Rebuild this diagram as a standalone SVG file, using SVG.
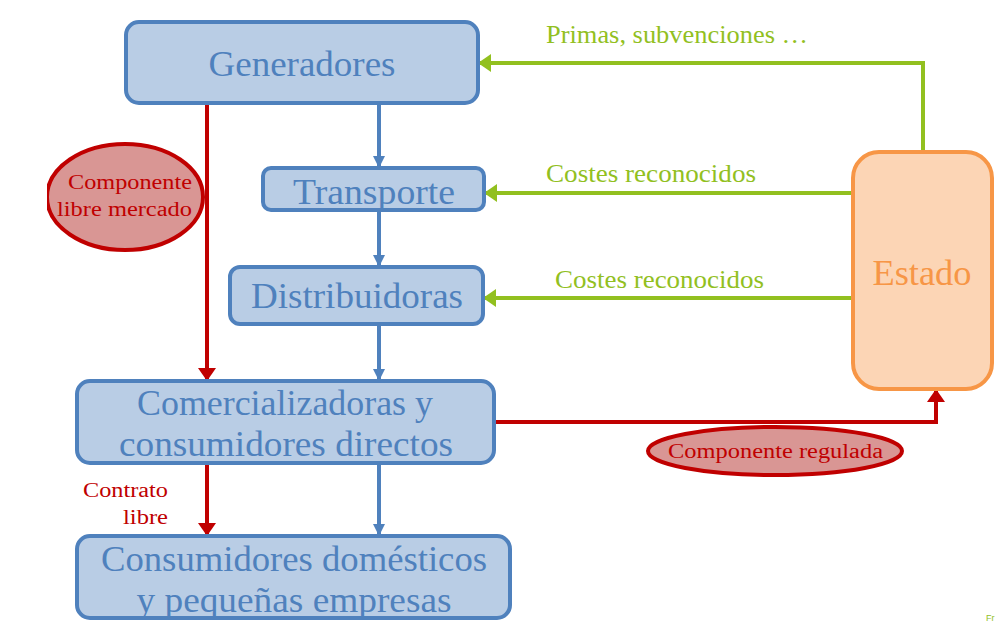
<svg xmlns="http://www.w3.org/2000/svg" width="997" height="623" viewBox="0 0 997 623">
<style>
.box{fill:#b9cde5;stroke:#4f81bd;stroke-width:4}
.bt{font-family:"Liberation Serif","DejaVu Serif",serif;font-size:35px;fill:#4f81bd;text-anchor:middle}
.g{stroke:#92c01f;stroke-width:4;fill:none}
.r{stroke:#c00000;stroke-width:4;fill:none}
.b{stroke:#4f81bd;stroke-width:4;fill:none}
.gt{font-family:"Liberation Serif","DejaVu Serif",serif;font-size:25px;fill:#92c01f}
.rt{font-family:"Liberation Serif","DejaVu Serif",serif;font-size:20px;fill:#c00000}
.ell{fill:#d99694;stroke:#c00000;stroke-width:4}
</style>
<defs>
<marker id="ab" markerUnits="userSpaceOnUse" markerWidth="14" markerHeight="12" refX="12" refY="6" orient="auto"><path d="M0,0 L12,6 L0,12 z" fill="#4f81bd"/></marker>
<marker id="ar" markerUnits="userSpaceOnUse" markerWidth="16" markerHeight="18" refX="13" refY="9" orient="auto"><path d="M0,0 L13,9 L0,18 z" fill="#c00000"/></marker>
<marker id="ag" markerUnits="userSpaceOnUse" markerWidth="16" markerHeight="18" refX="13" refY="9" orient="auto"><path d="M0,0 L13,9 L0,18 z" fill="#92c01f"/></marker>
<clipPath id="cl"><rect x="47" y="0" width="950" height="623"/></clipPath>
</defs>
<g id="connectors">
<path class="b" d="M379,103 V168" marker-end="url(#ab)"/>
<path class="b" d="M379,210 V267" marker-end="url(#ab)"/>
<path class="b" d="M379,324 V381" marker-end="url(#ab)"/>
<path class="b" d="M379,463 V536" marker-end="url(#ab)"/>
<path class="r" d="M207,103 V381" marker-end="url(#ar)"/>
<path class="r" d="M207,463 V536" marker-end="url(#ar)"/>
<path class="r" d="M494,422 H936 V389" marker-end="url(#ar)"/>
<path class="g" d="M923,152 V63 H478" marker-end="url(#ag)"/>
<path class="g" d="M853,193 H484" marker-end="url(#ag)"/>
<path class="g" d="M853,298 H483" marker-end="url(#ag)"/>
<text class="gt" x="546" y="43" textLength="262" lengthAdjust="spacingAndGlyphs">Primas, subvenciones …</text>
<text class="gt" x="546" y="182" textLength="210" lengthAdjust="spacingAndGlyphs">Costes reconocidos</text>
<text class="gt" x="555" y="288" textLength="209" lengthAdjust="spacingAndGlyphs">Costes reconocidos</text>
<text class="rt" x="83" y="497" textLength="85" lengthAdjust="spacingAndGlyphs">Contrato</text>
<text class="rt" x="123" y="524" textLength="45" lengthAdjust="spacingAndGlyphs">libre</text>
</g>
<g id="generadores"><rect class="box" x="126" y="22" width="352" height="81" rx="13"/><text class="bt" x="302" y="76" textLength="187" lengthAdjust="spacingAndGlyphs">Generadores</text></g>
<g id="transporte"><rect class="box" x="263" y="168" width="221" height="42" rx="8"/><text class="bt" x="374" y="204" textLength="162" lengthAdjust="spacingAndGlyphs">Transporte</text></g>
<g id="distribuidoras"><rect class="box" x="230" y="267" width="253" height="57" rx="10"/><text class="bt" x="357" y="308" textLength="212" lengthAdjust="spacingAndGlyphs">Distribuidoras</text></g>
<g id="comercializadoras"><rect class="box" x="77" y="381" width="417" height="82" rx="13"/><text class="bt" x="285" y="415" textLength="296" lengthAdjust="spacingAndGlyphs">Comercializadoras y</text><text class="bt" x="286" y="456" textLength="334" lengthAdjust="spacingAndGlyphs">consumidores directos</text></g>
<g id="consumidores"><rect class="box" x="77" y="536" width="433" height="82" rx="13"/><text class="bt" x="294" y="571" textLength="386" lengthAdjust="spacingAndGlyphs">Consumidores domésticos</text><text class="bt" x="294" y="612" textLength="315" lengthAdjust="spacingAndGlyphs">y pequeñas empresas</text></g>
<g id="estado"><rect x="853" y="152" width="139" height="237" rx="26" fill="#fcd5b5" stroke="#f79646" stroke-width="4"/><text x="922" y="285" text-anchor="middle" font-family="Liberation Serif, DejaVu Serif, serif" font-size="35" fill="#f79646" textLength="99" lengthAdjust="spacingAndGlyphs">Estado</text></g>
<g id="libre-mercado"><ellipse class="ell" cx="125" cy="197" rx="78" ry="53" clip-path="url(#cl)"/><text class="rt" x="68" y="189" textLength="124" lengthAdjust="spacingAndGlyphs">Componente</text><text class="rt" x="57" y="216" textLength="135" lengthAdjust="spacingAndGlyphs">libre mercado</text></g>
<g id="regulada"><ellipse class="ell" cx="775" cy="451" rx="127" ry="24"/><text class="rt" x="668" y="458" textLength="215" lengthAdjust="spacingAndGlyphs">Componente regulada</text></g>
<text x="986" y="621" font-family="Liberation Sans, sans-serif" font-size="9" fill="#92c01f">Fr</text>
</svg>
